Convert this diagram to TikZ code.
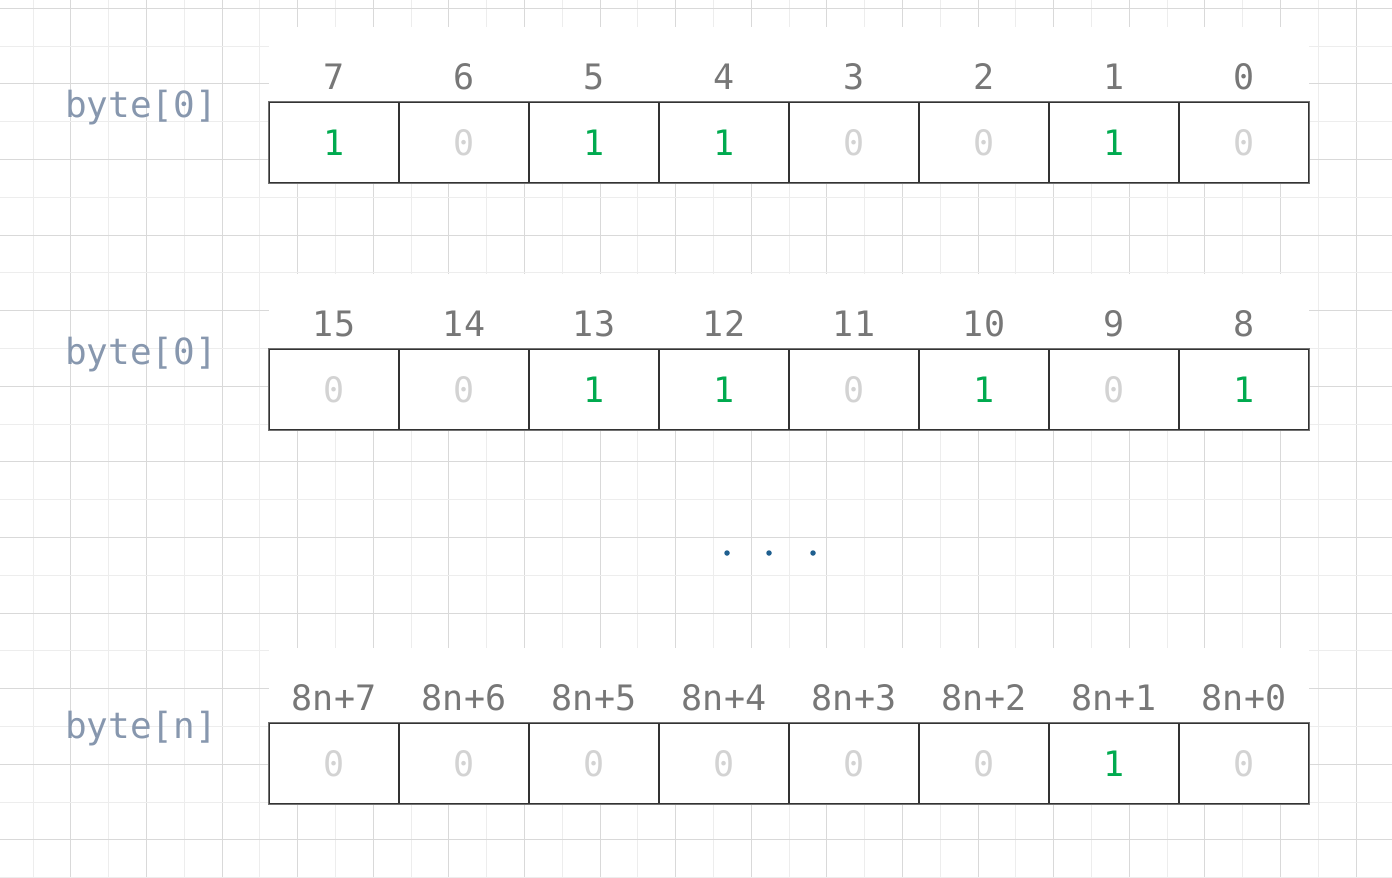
\documentclass[tikz,border=0pt]{standalone}
\usepackage{fontspec}
\setmonofont{DejaVu Sans Mono}
\definecolor{gridA}{HTML}{D9D9D9}
\definecolor{gridB}{HTML}{EDEDED}
\definecolor{hdr}{HTML}{777777}
\definecolor{one}{HTML}{00AA4F}
\definecolor{zero}{HTML}{D3D3D3}
\definecolor{lbl}{HTML}{8797AE}
\definecolor{outerc}{HTML}{727272}
\definecolor{innerc}{HTML}{333333}
\definecolor{dotc}{HTML}{1F5F8F}
\tikzset{
  cell/.style={draw=innerc, line width=1.3pt, fill=white, minimum width=130pt, minimum height=80.5pt, inner sep=0pt},
  hdrtxt/.style={font=\fontsize{35}{42}\selectfont\ttfamily, text=hdr, inner sep=0pt, anchor=base},
  valtxt/.style={font=\fontsize{35}{42}\selectfont\ttfamily, inner sep=0pt, anchor=base},
  b1/.style={text=one},
  b0/.style={text=zero},
  lbltxt/.style={font=\fontsize{36}{42}\selectfont\ttfamily, text=lbl, inner sep=0pt, anchor=base west},
  dotn/.style={circle, fill=dotc, inner sep=0pt, minimum size=5.5pt}
}
\newcommand\byterow[4]{%
  \fill[white] (269,#2-75) rectangle (1309,#2);
  \foreach \h/\v [count=\i from 0] in {#4} {
    \node[cell] (#1c\i) at ({334+130*\i},#2+40.25) {};
    \node[hdrtxt] (#1h\i) at ({334+130*\i},#2-13) {\h};
    \node[valtxt, b\v] (#1v\i) at ({334+130*\i},#2+53) {\v};
  }
  \draw[outerc, line width=1.3pt] (#1c0.north west) rectangle (#1c7.south east);
  \node[lbltxt] (#1l) at (65,#2+15) {#3};
}
\begin{document}
\begin{tikzpicture}[x=1pt,y=-1pt]
\fill[white] (0,0) rectangle (1392,878);
\useasboundingbox (0,0) rectangle (1392,878);
% grid
\foreach \k in {0,...,18} \draw[gridB, line width=1pt] ({33+75.6*\k},0) -- ({33+75.6*\k},878);
\foreach \k in {0,...,17} \draw[gridA, line width=1pt] ({70.8+75.6*\k},0) -- ({70.8+75.6*\k},878);
\foreach \k in {0,...,11} \draw[gridB, line width=1pt] (0,{46.1+75.6*\k}) -- (1392,{46.1+75.6*\k});
\foreach \k in {0,...,11} \draw[gridA, line width=1pt] (0,{8.3+75.6*\k}) -- (1392,{8.3+75.6*\k});
% rows
\byterow{ra}{102}{byte[0]}{7/1,6/0,5/1,4/1,3/0,2/0,1/1,0/0}
\byterow{rb}{349}{byte[0]}{15/0,14/0,13/1,12/1,11/0,10/1,9/0,8/1}
\byterow{rc}{723}{byte[n]}{8n+7/0,8n+6/0,8n+5/0,8n+4/0,8n+3/0,8n+2/0,8n+1/1,8n+0/0}
% ellipsis
\node[dotn] (d1) at (727,553) {};
\node[dotn] (d2) at (769,553) {};
\node[dotn] (d3) at (813,553) {};
\end{tikzpicture}
\end{document}
